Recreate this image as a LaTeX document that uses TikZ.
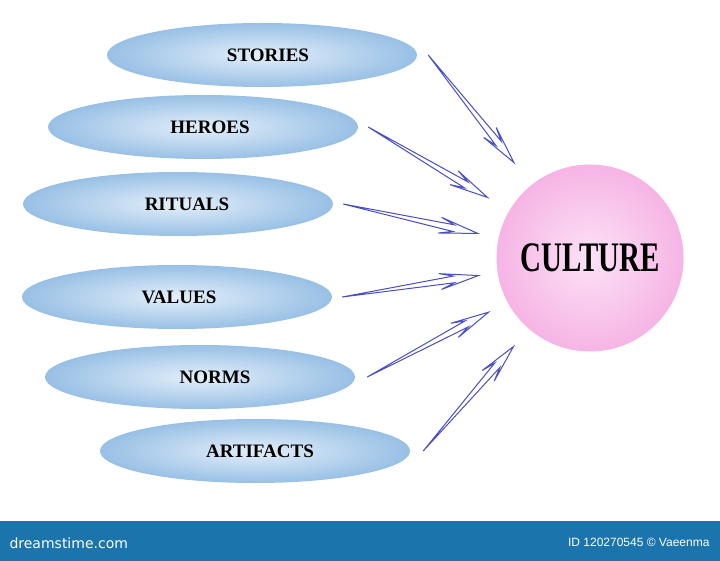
\documentclass[tikz,border=0pt]{standalone}
\usepackage{graphicx}
\usepackage{fontspec}
\setmainfont{Liberation Serif}
\newfontfamily\sitefont{DejaVu Sans}
\newfontfamily\idfont{Liberation Sans}
\usetikzlibrary{shapes.geometric,calc}
\definecolor{skyedge}{HTML}{98C0E5}
\definecolor{skycore}{HTML}{E4EFFA}
\definecolor{pinkedge}{HTML}{F6B4E5}
\definecolor{pinkcore}{HTML}{FCE2F6}
\definecolor{arrowink}{HTML}{4A4EC6}
\definecolor{barblue}{HTML}{1B74AC}

\tikzset{
  trait/.style={ellipse,minimum width=310pt,minimum height=64pt,inner sep=0pt,
    shade,inner color=skycore,outer color=skyedge},
  tag/.style={font=\bfseries\fontsize{19}{19}\selectfont,inner sep=0pt},
  feed/.style={draw=arrowink,fill=white,line width=1pt,line join=miter}
}

\begin{document}
\begin{tikzpicture}[x=1pt,y=-1pt,line cap=round,line join=round]
  \useasboundingbox (0,0) rectangle (720,561);
  \fill[white] (0,0) rectangle (720,561);

  \foreach \nm/\cx/\cy/\dx/\txt in {stories/262/55/6/STORIES,heroes/203/127/7/HEROES,
      rituals/178/204/9/RITUALS,values/177/297/2/VALUES,norms/200/377/15/NORMS,
      artifacts/255/451/5/ARTIFACTS}{
    \node[trait] (\nm) at (\cx,\cy) {};
    \node[tag] (\nm-tag) at ([xshift=\dx pt]\nm.center) {\txt};
  }

  \node[circle,minimum size=187pt,inner sep=0pt,shade,inner color=pinkcore,outer color=pinkedge,
    font=\bfseries\fontsize{29}{29}\selectfont] (culture) at (590,258) {\scalebox{1}[1.45]{CULTURE}};

  \foreach \src/\gap/\reach in {stories/11/122,heroes/10/119,rituals/10/115,values/10/113,norms/12/115,artifacts/13/117}{
    \coordinate (\src-t) at ($(\src.east)+(\gap,0)$);
    \coordinate (\src-h) at ($(culture.center)!\reach pt!(\src-t)$);
    \draw[feed] (\src-t)
      -- ($(\src-t)!0.82!(\src-h)!3.4pt!90:(\src-h)$)
      -- ($(\src-t)!0.72!(\src-h)!8pt!90:(\src-h)$)
      -- (\src-h)
      -- ($(\src-t)!0.72!(\src-h)!8pt!-90:(\src-h)$)
      -- ($(\src-t)!0.82!(\src-h)!3.4pt!-90:(\src-h)$)
      -- cycle;
  }

  \fill[barblue] (0,521) rectangle (720,561);
  \node[white,anchor=west,font=\sitefont\fontsize{14}{14}\selectfont] (site) at (6,543) {dreamstime.com};
  \node[white,anchor=east,font=\idfont\fontsize{12}{12}\selectfont] (credit) at (713,542) {ID 120270545 © Vaeenma};
\end{tikzpicture}
\end{document}
